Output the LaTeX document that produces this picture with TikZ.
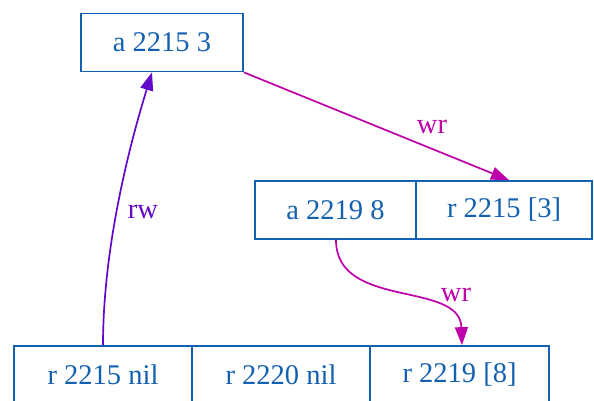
\documentclass[tikz,border=0pt]{standalone}
\usepackage{fontspec}
\setmainfont{Liberation Serif}
\usetikzlibrary{arrows.meta,calc}
\definecolor{cellblue}{RGB}{18,96,176}
\definecolor{rwpurple}{RGB}{98,8,200}
\definecolor{wrmagenta}{RGB}{190,0,170}
\tikzset{
  cell/.style={draw=cellblue, line width=1.7pt, inner sep=0pt,
    minimum height=58pt, text=cellblue, font=\fontsize{28.5}{31}\selectfont},
  lbl/.style={font=\fontsize{28.5}{31}\selectfont, inner sep=0pt},
  rwedge/.style={draw=rwpurple, line width=1.7pt,
    -{Triangle[length=18pt,width=13pt]}, fill=none},
  wredge/.style={draw=wrmagenta, line width=1.7pt,
    -{Triangle[length=18pt,width=13pt]}, fill=none},
}
\begin{document}
\begin{tikzpicture}[x=1pt, y=-1pt]
  \useasboundingbox (0,0) rectangle (594,401);
  % top record
  \node[cell, minimum width=162pt] (a2215) at (162,42.5) {a 2215 3};
  % middle record
  \node[cell, minimum width=161pt] (a2219) at (335.5,210) {a 2219 8};
  \node[cell, minimum width=176pt] (r2215b) at (504,210) {r 2215 [3]};
  % bottom record
  \node[cell, minimum width=178pt] (r2215) at (103,375) {r 2215 nil};
  \node[cell, minimum width=178pt] (r2220) at (281,375) {r 2220 nil};
  \node[cell, minimum width=179pt] (r2219) at (459.5,375) {r 2219 [8]};
  % edges
  \draw[wredge] (a2215.south east) -- ($(r2215b.north)+(5,0)$);
  \node[lbl, text=wrmagenta] (lwr1) at (432,127) {wr};
  \draw[rwedge] (r2215.north) .. controls (103,250) and (128,150) .. ($(a2215.south)+(-10,0)$);
  \node[lbl, text=rwpurple] (lrw) at (143,212) {rw};
  \draw[wredge] ($(a2219.south)+(0.5,0)$) .. controls (336,310) and (460,280) .. ($(r2219.north)+(2.5,0)$);
  \node[lbl, text=wrmagenta] (lwr2) at (456,295) {wr};
\end{tikzpicture}
\end{document}
